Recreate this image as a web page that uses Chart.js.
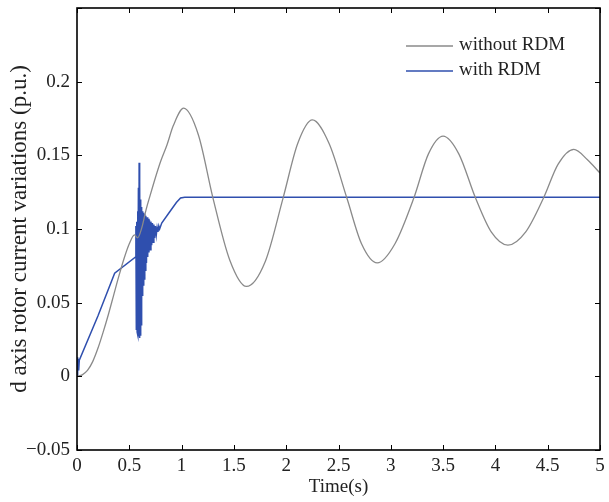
<!DOCTYPE html>
<html>
<head>
<meta charset="utf-8">
<script src="https://cdn.jsdelivr.net/npm/chart.js@4/dist/chart.umd.min.js"></script>
<style>
  html, body { margin: 0; padding: 0; background: #fff; }
  #wrap { width: 609px; height: 502px; }
</style>
</head>
<body>
<div id="wrap"><canvas id="rotorChart" width="609" height="502"></canvas></div>
<script>
// tick positions and labels
const xTicks = [0, 0.5, 1, 1.5, 2, 2.5, 3, 3.5, 4, 4.5, 5];
const xTickLabels = ['0', '0.5', '1', '1.5', '2', '2.5', '3', '3.5', '4', '4.5', '5'];
const yTicks = [-0.05, 0, 0.05, 0.1, 0.15, 0.2, 0.25];
const yTickLabels = ['\u22120.05', '0', '0.05', '0.1', '0.15', '0.2', ''];

// without RDM (gray)
const timeWithout = [0, 0.05, 0.1, 0.15, 0.2, 0.25, 0.3, 0.35, 0.4, 0.45, 0.5, 0.55, 0.58, 0.62, 0.66, 0.7, 0.75, 0.8, 0.86, 0.92, 1.02,
  1.16, 1.3, 1.46, 1.62, 1.8, 1.97, 2.11, 2.25, 2.41, 2.58, 2.72, 2.87, 3.04, 3.22, 3.36, 3.5, 3.65, 3.81, 3.96, 4.12, 4.29, 4.46, 4.6, 4.75, 4.88, 5];
const valWithout = [0, 0.001, 0.004, 0.01, 0.019, 0.03, 0.042, 0.055, 0.068, 0.08, 0.09, 0.096, 0.094, 0.101, 0.113, 0.123, 0.135, 0.146, 0.157, 0.17, 0.182,
  0.164, 0.121, 0.079, 0.061, 0.078, 0.121, 0.158, 0.174, 0.158, 0.121, 0.09, 0.077, 0.09, 0.121, 0.151, 0.163, 0.151, 0.121, 0.098, 0.089, 0.098, 0.121, 0.144, 0.154, 0.147, 0.138];

// with RDM (blue)
const timeWith = [0, 0.004, 0.008, 0.012, 0.016, 0.022, 0.2, 0.36, 0.56,
  0.563, 0.567, 0.571, 0.575, 0.579, 0.583, 0.587, 0.591, 0.594, 0.597, 0.601, 0.605, 0.609, 0.613,
  0.618, 0.623, 0.628, 0.633, 0.638, 0.643, 0.648, 0.653, 0.658, 0.664, 0.67, 0.676, 0.682, 0.688,
  0.694, 0.7, 0.707, 0.714, 0.721, 0.728, 0.735, 0.742, 0.75, 0.758, 0.766, 0.774, 0.782, 0.79,
  0.81, 0.88, 0.95, 0.99, 1.03, 5];
const valWith = [0, 0.013, 0.003, 0.012, 0.004, 0.011, 0.041, 0.07, 0.081,
  0.102, 0.032, 0.105, 0.03, 0.112, 0.028, 0.128, 0.027, 0.145, 0.026, 0.132, 0.028, 0.12, 0.035,
  0.115, 0.055, 0.112, 0.062, 0.111, 0.066, 0.11, 0.072, 0.109, 0.077, 0.108, 0.081, 0.107, 0.084,
  0.106, 0.086, 0.105, 0.089, 0.104, 0.091, 0.103, 0.094, 0.102, 0.096, 0.101, 0.098, 0.102, 0.1,
  0.104, 0.111, 0.118, 0.121, 0.1215, 0.1215];

const labels = ['without RDM', 'with RDM'];
const colors = ['#8a8a8a', '#2f4fae'];

const serif = "'Liberation Serif', 'DejaVu Serif', serif";

// box with inward ticks on all four sides, plus the legend
const frame = {
  id: 'frame',
  afterDraw(chart) {
    const c = chart.ctx;
    const a = chart.chartArea;
    const xs = chart.scales.x, ys = chart.scales.y;
    c.save();
    c.strokeStyle = '#000';
    c.lineWidth = 1;
    xTicks.forEach(v => {
      const px = Math.round(xs.getPixelForValue(v)) + 0.5;
      c.beginPath();
      c.moveTo(px, a.bottom); c.lineTo(px, a.bottom - 5);
      c.moveTo(px, a.top); c.lineTo(px, a.top + 5);
      c.stroke();
    });
    yTicks.forEach(v => {
      const py = Math.round(ys.getPixelForValue(v)) + 0.5;
      c.beginPath();
      c.moveTo(a.left, py); c.lineTo(a.left + 5, py);
      c.moveTo(a.right, py); c.lineTo(a.right - 5, py);
      c.stroke();
    });
    c.lineWidth = 1.6;
    c.strokeRect(a.left, a.top, a.right - a.left, a.bottom - a.top);

    // legend
    c.font = '19px ' + serif;
    c.textBaseline = 'middle';
    c.fillStyle = '#222';
    chart.data.datasets.forEach((ds, i) => {
      const y = 46 + i * 25;
      c.strokeStyle = ds.borderColor;
      c.lineWidth = 1.4;
      c.beginPath();
      c.moveTo(406, y); c.lineTo(453, y);
      c.stroke();
      c.fillText(ds.label, 459, y - 1);
    });
    c.restore();
  }
};

new Chart(document.getElementById('rotorChart'), {
  type: 'line',
  data: {
    datasets: [{
      label: labels[0],
      data: timeWithout.map((t, i) => ({ x: t, y: valWithout[i] })),
      borderColor: colors[0],
      borderWidth: 1.3,
      pointRadius: 0,
      cubicInterpolationMode: 'monotone',
      fill: false
    }, {
      label: labels[1],
      data: timeWith.map((t, i) => ({ x: t, y: valWith[i] })),
      borderColor: colors[1],
      borderWidth: 1.5,
      pointRadius: 0,
      tension: 0,
      fill: false
    }]
  },
  options: {
    responsive: false,
    animation: false,
    layout: { padding: { top: 8, right: 9, left: 0, bottom: 0 } },
    plugins: { legend: { display: false }, tooltip: { enabled: false } },
    scales: {
      x: {
        type: 'linear',
        min: 0,
        max: 5,
        afterBuildTicks: s => { s.ticks = xTicks.map(v => ({ value: v })); },
        afterFit: s => { s.height = 52; s.paddingLeft = 0; s.paddingRight = 0; },
        grid: { display: false, drawTicks: false },
        border: { display: false },
        ticks: {
          padding: 5,
          maxRotation: 0,
          autoSkip: false,
          color: '#222',
          font: { family: serif, size: 19 },
          callback: (v, i) => xTickLabels[i]
        },
        title: {
          display: true,
          text: 'Time(s)',
          color: '#222',
          font: { family: serif, size: 19 },
          padding: { top: 0, bottom: 4 }
        }
      },
      y: {
        type: 'linear',
        min: -0.05,
        max: 0.25,
        afterBuildTicks: s => { s.ticks = yTicks.map(v => ({ value: v })); },
        afterFit: s => { s.width = 77; s.paddingTop = 0; s.paddingBottom = 0; },
        grid: { display: false, drawTicks: false },
        border: { display: false },
        ticks: {
          padding: 7,
          autoSkip: false,
          color: '#222',
          font: { family: serif, size: 19 },
          callback: (v, i) => yTickLabels[i]
        },
        title: {
          display: true,
          text: 'd axis rotor current variations (p.u.)',
          color: '#222',
          font: { family: serif, size: 23 },
          padding: { top: 6, bottom: 0 }
        }
      }
    }
  },
  plugins: [frame]
});
</script>
</body>
</html>
